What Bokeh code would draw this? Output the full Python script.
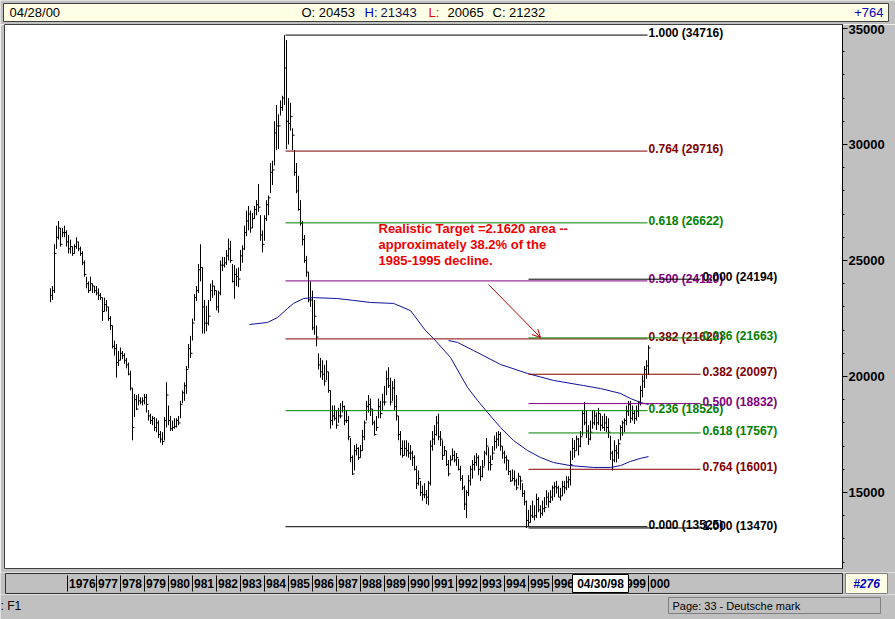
from bokeh.plotting import figure
from bokeh.models import Range1d, LinearAxis, FixedTicker, Arrow, OpenHead, ColumnDataSource
from bokeh.layouts import column
from bokeh.embed import file_html
from bokeh.resources import INLINE
from bokeh.core.properties import value

# ---------------- data (monthly bars, May 1975 .. Apr 2000) ----------------
FIRST_YEAR, FIRST_MONTH = 1975, 5

high = [
    23800, 23900, 25700, 26500, 26700, 26400, 26400, 26500,                       # 1975
    26300, 26100, 25900, 25600, 25700, 26000, 25800, 25600, 25400, 25000, 24300, 24100,  # 1976
    24300, 24000, 23900, 23900, 23800, 23600, 23400, 23400, 23300, 23000, 22600, 22200,  # 1977
    21550, 21400, 21100, 21250, 21100, 21000, 20800, 20600, 20250, 19500, 19250, 19200,  # 1978
    19250, 19100, 19100, 19250, 19250, 18550, 18400, 18300, 18250, 18200, 18100, 17650,  # 1979
    17600, 18250, 19750, 18750, 18300, 18100, 18200, 18200, 18300, 18950, 19400, 19750,  # 1980
    20450, 21400, 21750, 22500, 23550, 23900, 24850, 25700, 24700, 23300, 23050, 23300,  # 1981
    24000, 24150, 23900, 23700, 23700, 25000, 25150, 25150, 25450, 25950, 25850, 24850,  # 1982
    24800, 24650, 24700, 25450, 25650, 26500, 27150, 27350, 27150, 27050, 27350, 27600,  # 1983
    28300, 26950, 26300, 26950, 27600, 27800, 29200, 29300, 31000, 31700, 31300, 31900,  # 1984
    32100, 34716, 34500, 32000, 31800, 30700, 29750, 29200, 28650, 27600, 26700, 26100,  # 1985
    25200, 24500, 24100, 23700, 23300, 22200, 21000, 20800, 20700, 20500, 20700, 20200,  # 1986
    19400, 18750, 18750, 18550, 18650, 18850, 18950, 18750, 18550, 18300, 17350, 16600,  # 1987
    17050, 17100, 16950, 17050, 17700, 18100, 18950, 19200, 19050, 18600, 18100, 18300,  # 1988
    19050, 18950, 19250, 19600, 20250, 20400, 19950, 19800, 19900, 19200, 18300, 17650,  # 1989
    17250, 17250, 17250, 17150, 17050, 16800, 16600, 16150, 15950, 15500, 15300, 15400,  # 1990
    15100, 15500, 17250, 17650, 17900, 18300, 18400, 17650, 17250, 17000, 16800, 16400,  # 1991
    16600, 16900, 16800, 16700, 16450, 16150, 15750, 15300, 15100, 15750, 16150, 16400,  # 1992
    16600, 16700, 16600, 16150, 16400, 16800, 17350, 16950, 16600, 17000, 17450, 17600,  # 1993
    17650, 17600, 17000, 16800, 16600, 16400, 15950, 16000, 15950, 15600, 15850, 15700,  # 1994
    15400, 15100, 14650, 14250, 14450, 14650, 14450, 14950, 14800, 14450, 14650, 14800,  # 1995
    15100, 15000, 15100, 15300, 15450, 15500, 15300, 15200, 15500, 15500, 15700, 15700,  # 1996
    16800, 17350, 17250, 17450, 17350, 17650, 18550, 18900, 18550, 17900, 18100, 18550,  # 1997
    18550, 18450, 18650, 18400, 18300, 18400, 18300, 18200, 17450, 16800, 17250, 17050,  # 1998
    17300, 17900, 18100, 18200, 18750, 18950, 18950, 18750, 18550, 18750, 18950, 19600,  # 1999
    20050, 20450, 20700, 21343,                                                         # 2000
]
low = [
    23200, 23300, 23600, 25500, 25900, 25600, 26000, 26000,
    25600, 25300, 25300, 25200, 25300, 25500, 25400, 25200, 24800, 24300, 23800, 23600,
    23700, 23600, 23600, 23500, 23300, 23300, 22400, 22800, 22800, 22400, 22000, 21200,
    20900, 19950, 20450, 20700, 20750, 20550, 20350, 20050, 19400, 17250, 18250, 18550,
    18750, 18800, 18750, 18800, 18450, 18100, 17950, 17900, 17650, 17600, 17350, 17150,
    17050, 17250, 17800, 17900, 17650, 17650, 17750, 17800, 17900, 18200, 18850, 18950,
    19250, 20350, 20800, 21550, 22400, 23250, 23600, 24100, 21850, 21850, 21950, 22200,
    23250, 23400, 23500, 22850, 22750, 23500, 24550, 24700, 24800, 25000, 24900, 24050,
    23350, 23900, 23850, 24550, 24900, 25450, 26050, 26300, 26200, 26400, 26800, 26950,
    27100, 25850, 25350, 25850, 26700, 26950, 27900, 28250, 29100, 29750, 29800, 31250,
    31450, 31700, 29800, 30000, 30600, 29750, 28650, 27900, 27150, 26500, 25650, 24900,
    24300, 23200, 23000, 22000, 21800, 21300, 20300, 19950, 19850, 19600, 19850, 19300,
    17750, 17900, 18100, 17750, 18000, 18200, 18450, 17900, 18000, 17250, 16300, 15750,
    15950, 16600, 16400, 16500, 16800, 17250, 18100, 18450, 18300, 17900, 17450, 17650,
    18200, 18200, 18550, 18750, 19200, 19500, 18750, 18950, 18550, 18100, 17250, 16600,
    16500, 16600, 16550, 16500, 16400, 16150, 15950, 15150, 15300, 14850, 14650, 14750,
    14500, 14450, 15300, 16800, 17050, 17450, 17250, 17000, 16400, 16600, 16150, 15700,
    16150, 16400, 16300, 16150, 15950, 15500, 15100, 14250, 13900, 14850, 15300, 15600,
    15950, 16150, 15750, 15500, 15650, 16150, 16600, 15950, 15950, 16400, 16800, 16900,
    17000, 16800, 16450, 16250, 15950, 15750, 15450, 15500, 15300, 15100, 15300, 15100,
    14800, 14450, 13470, 13530, 13700, 13900, 13800, 13900, 14150, 13900, 14000, 14150,
    14450, 14350, 14550, 14650, 14800, 14950, 14800, 14650, 14850, 14950, 15100, 15200,
    15300, 16400, 16500, 16800, 16600, 16950, 17450, 17900, 17350, 17050, 17250, 17750,
    17900, 17700, 17900, 17650, 17750, 17650, 17600, 17350, 16400, 15950, 16300, 16300,
    16450, 17250, 17450, 17600, 17900, 18300, 18000, 18100, 17950, 18100, 18250, 18750,
    19100, 19500, 19900, 20065,
]
close = [
    23500, 23700, 25300, 26000, 26400, 25700, 26200, 26200,
    25800, 25500, 25600, 25300, 25600, 25800, 25500, 25300, 24900, 24400, 24000, 23700,
    24000, 23900, 23700, 23600, 23500, 23400, 22800, 23100, 23000, 22500, 22200, 21300,
    21200, 20600, 20700, 21000, 20900, 20700, 20500, 20100, 19500, 17800, 19000, 18600,
    18950, 18900, 18950, 19100, 18800, 18300, 18100, 18200, 17800, 18000, 17500, 17300,
    17200, 18100, 19200, 18100, 17750, 17800, 17850, 18100, 18000, 18800, 19300, 19600,
    20300, 21200, 21000, 22300, 23400, 23700, 24600, 24700, 23000, 22300, 22300, 22600,
    23700, 23900, 23700, 23000, 23600, 24800, 24800, 24900, 25200, 25500, 25000, 24100,
    24400, 24300, 24200, 25200, 25500, 26200, 26700, 27000, 26400, 26800, 27200, 27400,
    27300, 26100, 25700, 26800, 27400, 27700, 28800, 28900, 30500, 30800, 30800, 31600,
    32000, 33300, 31000, 30900, 31200, 30400, 28800, 28000, 27200, 26600, 25900, 25000,
    24500, 23300, 23300, 22100, 22600, 21700, 20500, 20200, 20100, 19800, 20200, 19400,
    18100, 18300, 18200, 17900, 18300, 18300, 18700, 18100, 18100, 17400, 16500, 15800,
    16800, 16900, 16500, 16800, 17400, 18000, 18700, 18800, 18600, 18000, 17500, 17800,
    18700, 18400, 18900, 18900, 19900, 19600, 18900, 19500, 18700, 18300, 17500, 16900,
    16600, 16900, 16800, 16700, 16700, 16500, 16000, 15400, 15600, 15000, 14900, 14900,
    14800, 15400, 17000, 17300, 17500, 18000, 17400, 17300, 16600, 16800, 16200, 15800,
    16400, 16600, 16400, 16500, 16000, 15600, 15200, 14500, 15000, 15500, 16000, 16200,
    16300, 16500, 16000, 15700, 16100, 16700, 17000, 16300, 16200, 16700, 17200, 17300,
    17500, 17000, 16700, 16500, 16400, 15900, 15500, 15600, 15500, 15200, 15700, 15500,
    14950, 14600, 13800, 13700, 14000, 13950, 14000, 14700, 14250, 14100, 14300, 14350,
    14800, 14600, 14800, 15200, 15250, 15200, 14800, 14850, 15250, 15200, 15450, 15550,
    16200, 16900, 16800, 17300, 17000, 17400, 18400, 18000, 17650, 17300, 17600, 18000,
    18300, 18000, 18400, 17900, 17800, 18000, 17800, 17600, 16700, 16400, 16800, 16700,
    17100, 17800, 18000, 18100, 18500, 18800, 18200, 18400, 18200, 18500, 18900, 19400,
    19800, 20300, 20453, 21232,
]

# moving averages (read at selected months; month index 0 = May 1975)
ma_long_month = [99.5, 108.5, 113.5, 118.5, 121.5, 126.5, 131.5, 143.5, 151.5, 160, 171.5, 180,
                 187.5, 191.5, 200, 208.5, 213.5, 218.5, 225, 231.5, 238.5, 245, 251.5, 260,
                 271.5, 280, 285, 290, 295, 299]
ma_long_value = [22240, 22330, 22540, 22930, 23150, 23360, 23400, 23360, 23280, 23190, 23150, 22840,
                 21980, 21640, 20820, 19530, 18970, 18450, 17800, 17240, 16810, 16510, 16290, 16160,
                 16080, 16080, 16160, 16340, 16470, 16550]
ma_short_month = [199, 203.5, 211.5, 225, 238.5, 251.5, 266.5, 275, 285, 290, 295, 299]
ma_short_value = [21550, 21470, 21120, 20520, 20130, 19830, 19610, 19480, 19270, 19050, 18880, 18790]

# Fibonacci retracements
fib1_ratio = [1.000, 0.764, 0.618, 0.500, 0.382, 0.236, 0.000]
fib1_value = [34716, 29716, 26622, 24120, 21620, 18526, 13525]
fib2_ratio = [0.000, 0.236, 0.382, 0.500, 0.618, 0.764, 1.000]
fib2_value = [24194, 21663, 20097, 18832, 17567, 16001, 13470]

header_date = "04/28/00"
last_open, last_high, last_low, last_close = 20453, 21343, 20065, 21232
change_text = "+764"
bar_number = "#276"
cursor_date = "04/30/98"
status_left = ": F1"
status_page = "Page: 33 - Deutsche mark"
years = list(range(1976, 2001))
axis_ticks = [15000, 20000, 25000, 30000, 35000]
minor_axis_ticks = list(range(12000, 36000, 1000))
note_lines = ["Realistic Target =2.1620 area --", "approximately 38.2% of the", "1985-1995 decline."]

# ---------------- styling ----------------
W = 895
GRAY = "#c0c0c0"
CREAM = "#ffffe6"
SANS = value("Liberation Sans")
FIB_COLOR = {1.0: "black", 0.764: "#800000", 0.618: "#008000", 0.5: "#800080",
             0.382: "#800000", 0.236: "#008000", 0.0: "black"}


def no_align(f):
    try:
        f.frame_align = False
    except Exception:
        pass
    return f


def blank(height, xr, yr):
    f = figure(width=W, height=height, x_range=xr, y_range=yr, output_backend="svg",
               toolbar_location=None, x_axis_type=None, y_axis_type=None,
               min_border_left=0, min_border_right=0, min_border_top=0, min_border_bottom=0)
    f.background_fill_color = GRAY
    f.border_fill_color = GRAY
    f.outline_line_color = None
    return no_align(f)


# ---------------- header (y grows upward, 24 px tall) ----------------
hdr = blank(24, Range1d(0, W), Range1d(0, 24))
hdr.quad(left=[3], right=[888], bottom=[3], top=[21], fill_color=CREAM, line_color="#404040")
hdr.text(x=[9, 301, 364, 380, 428, 447, 492],
         y=[12] * 7,
         text=[header_date, f"O: {last_open}", "H:", f"{last_high}", "L:", f"{last_low}", f"C: {last_close}"],
         text_color=["black", "black", "#0000c0", "#101050", "#e00000", "black", "black"],
         text_font=SANS, text_font_size="13px", text_baseline="middle", text_align="left")
hdr.text(x=[883], y=[12], text=[change_text], text_color="#0000c0", text_font=SANS,
         text_font_size="13px", text_baseline="middle", text_align="right")

# ---------------- main chart ----------------
p = figure(width=W, height=548, x_range=Range1d(-23, 396), y_range=Range1d(11724, 35172),
           output_backend="svg", toolbar_location=None, x_axis_type=None, y_axis_type=None,
           min_border_left=4, min_border_right=53, min_border_top=0, min_border_bottom=4)
no_align(p)
p.background_fill_color = "white"
p.border_fill_color = GRAY
p.outline_line_color = "#404040"

ax = LinearAxis(ticker=FixedTicker(ticks=axis_ticks, minor_ticks=minor_axis_ticks))
ax.axis_line_color = "black"
ax.major_tick_line_color = "black"
ax.minor_tick_line_color = "black"
ax.major_tick_out = 5
ax.major_tick_in = 0
ax.minor_tick_out = 2
ax.minor_tick_in = 0
ax.major_label_standoff = 1
ax.major_label_text_font = "Liberation Sans"
ax.major_label_text_font_size = "13px"
ax.major_label_text_font_style = "bold"
ax.major_label_text_color = "black"
p.add_layout(ax, "right")

months = list(range(len(close)))
bars = ColumnDataSource(dict(x=months, x1=[m + 1 for m in months],
                             high=high, low=low, close=close))
p.segment(x0="x", y0="low", x1="x", y1="high", source=bars, line_color="black", line_width=1)
p.segment(x0="x", y0="close", x1="x1", y1="close", source=bars, line_color="black", line_width=1)

p.line(ma_long_month, ma_long_value, line_color="#10109a", line_width=1)
p.line(ma_short_month, ma_short_value, line_color="#10109a", line_width=1)

for ratios, vals, x0, x1, tx in [(fib1_ratio, fib1_value, 117.5, 298.5, 299),
                                 (fib2_ratio, fib2_value, 239, 325, 326)]:
    cols = [FIB_COLOR[r] for r in ratios]
    p.segment(x0=[x0] * len(vals), x1=[x1] * len(vals), y0=vals, y1=vals, line_color=cols, line_width=1)
    p.text(x=[tx] * len(vals), y=vals, text=[f"{r:.3f} ({v})" for r, v in zip(ratios, vals)],
           text_color=cols, text_font=SANS, text_font_size="12px", text_font_style="bold",
           text_baseline="alphabetic", text_align="left", y_offset=-2)

p.text(x=[164, 164, 164], y=[26379, 25689, 24999], text=note_lines, text_color="#ee0000",
       text_font=SANS, text_font_size="13px", text_font_style="bold",
       text_baseline="middle", text_align="left")
p.add_layout(Arrow(end=OpenHead(size=8, line_color="#c00000", line_width=1),
                   x_start=219, y_start=23965, x_end=245, y_end=21681,
                   line_color="#c00000", line_width=1))

# ---------------- date bar (x in months, 2 px per month) ----------------
dbar = blank(22, Range1d(-25, 422.5), Range1d(0, 22))
dbar.quad(left=[-22.5], right=[396], bottom=[1], top=[21], fill_color=GRAY, line_color="#303030")
sep_x, lab_x, lab_t = [], [], []
for i, yr in enumerate(years):
    jan = 12 * (yr - FIRST_YEAR) + (1 - FIRST_MONTH)
    s = jan + (0.5 if i == 0 else 3)
    sep_x.append(s)
    lab_x.append(s + 0.75)
    lab_t.append(str(yr) if i == 0 else str(yr)[1:])
dbar.segment(x0=sep_x, x1=sep_x, y0=[3] * len(sep_x), y1=[19] * len(sep_x), line_color="black")
dbar.text(x=lab_x, y=[11] * len(lab_x), text=lab_t, text_color="black", text_font=SANS,
          text_font_size="12px", text_font_style="bold", text_baseline="middle", text_align="left")
dbar.quad(left=[261], right=[289], bottom=[2], top=[20], fill_color="white", line_color="black")
dbar.text(x=[275], y=[11], text=[cursor_date], text_color="black", text_font=SANS,
          text_font_size="12px", text_font_style="bold", text_baseline="middle", text_align="center")
dbar.quad(left=[397.5], right=[418.5], bottom=[1], top=[21], fill_color=CREAM, line_color="#808080")
dbar.text(x=[408], y=[11], text=[bar_number], text_color="#0000c0", text_font=SANS,
          text_font_size="12px", text_font_style="bold italic", text_baseline="middle", text_align="center")

# ---------------- status bar (25 px tall) ----------------
st = blank(25, Range1d(0, W), Range1d(0, 25))
st.text(x=[0], y=[14], text=[status_left], text_color="black", text_font=SANS,
        text_font_size="12px", text_baseline="middle", text_align="left")
st.quad(left=[668], right=[880], bottom=[6], top=[22], fill_color=GRAY, line_color="#808080")
st.text(x=[672], y=[14], text=[status_page], text_color="black", text_font=SANS,
        text_font_size="11px", text_baseline="middle", text_align="left")

layout = column(hdr, p, dbar, st)
open("out.html", "w").write(file_html(layout, INLINE))
